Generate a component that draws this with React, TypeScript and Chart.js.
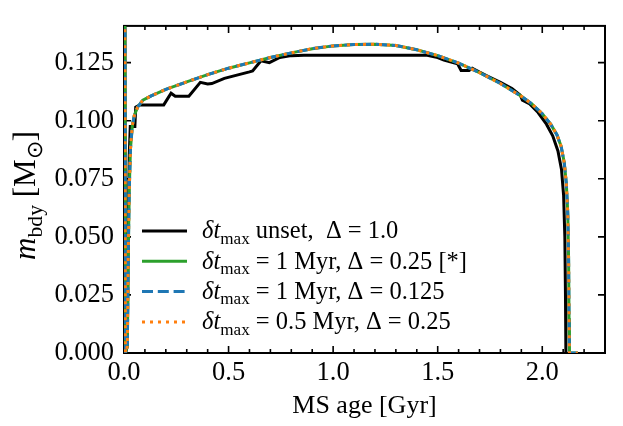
import React, { useEffect, useRef } from "react";
import { Chart, registerables } from "chart.js";

Chart.register(...registerables);

// ---------- data ----------
// black: δt_max unset, Δ = 1.0
const ageUnset = [
  0.004, 0.007, 0.016, 0.02, 0.025, 0.03, 0.052, 0.056, 0.075, 0.19, 0.225, 0.245,
  0.31, 0.365, 0.4, 0.42, 0.48, 0.6, 0.615, 0.655, 0.695, 0.745, 0.8, 0.86,
  1.45, 1.5, 1.53, 1.595, 1.612, 1.65, 1.665, 1.7, 1.735, 1.765, 1.8, 1.855,
  1.895, 1.905, 1.94, 1.98, 2.02, 2.05, 2.075, 2.092, 2.102, 2.108, 2.111, 2.113,
];
const mUnset = [
  0.16, 0.0, 0.003, 0.05, 0.085, 0.0975, 0.0975, 0.1058, 0.1068, 0.1068, 0.1118, 0.1105,
  0.1105, 0.1165, 0.1158, 0.116, 0.1182, 0.121, 0.1214, 0.1258, 0.125, 0.1272, 0.128, 0.1282,
  0.1282, 0.1272, 0.1261, 0.1245, 0.1216, 0.1216, 0.1226, 0.1209, 0.1193, 0.118, 0.1165, 0.1138,
  0.111, 0.1088, 0.1072, 0.1035, 0.0985, 0.0935, 0.087, 0.079, 0.068, 0.05, 0.025, 0.0,
];

// coloured runs (δt_max limited) – they lie on top of each other
const ageLimited = [
  0.004, 0.007, 0.016, 0.02, 0.025, 0.031, 0.04, 0.05, 0.065, 0.09, 0.13, 0.2,
  0.3, 0.4, 0.5, 0.6, 0.7, 0.8, 0.9, 1.0, 1.1, 1.2, 1.3, 1.4,
  1.5, 1.6, 1.7, 1.8, 1.9, 1.95, 2.0, 2.04, 2.07, 2.09, 2.105, 2.115,
  2.122, 2.126, 2.128, 2.13, 2.17,
];
const mLimited = [
  0.16, 0.0, 0.003, 0.04, 0.07, 0.088, 0.098, 0.1025, 0.1058, 0.1088, 0.1107, 0.1135,
  0.1167, 0.1198, 0.1226, 0.1249, 0.1272, 0.1292, 0.131, 0.1322, 0.1328, 0.1329, 0.1324, 0.1305,
  0.128, 0.1248, 0.1207, 0.116, 0.1105, 0.1072, 0.103, 0.0985, 0.094, 0.089, 0.082, 0.073,
  0.06, 0.04, 0.015, 0.0, 0.0,
];

const xTickValues = [0, 0.5, 1.0, 1.5, 2.0];
const xMinorValues = [
  0.1, 0.2, 0.3, 0.4, 0.6, 0.7, 0.8, 0.9, 1.1, 1.2, 1.3, 1.4, 1.6, 1.7, 1.8, 1.9, 2.1, 2.2,
];
const yTickValues = [0, 0.025, 0.05, 0.075, 0.1, 0.125];

const FONT = '"Liberation Serif", "Times New Roman", serif';

type Seg = { t: string; it?: boolean; sub?: boolean };

const legendRows: { color: string; dash: number[]; segs: Seg[] }[] = [
  {
    color: "#000000",
    dash: [],
    segs: [
      { t: "δt", it: true },
      { t: "max", sub: true },
      { t: " unset,  " },
      { t: "Δ = 1.0" },
    ],
  },
  {
    color: "#2ca02c",
    dash: [],
    segs: [
      { t: "δt", it: true },
      { t: "max", sub: true },
      { t: " = 1 Myr, Δ = 0.25 [*]" },
    ],
  },
  {
    color: "#1f77b4",
    dash: [11, 4.8],
    segs: [
      { t: "δt", it: true },
      { t: "max", sub: true },
      { t: " = 1 Myr, Δ = 0.125" },
    ],
  },
  {
    color: "#ff7f0e",
    dash: [3, 5],
    segs: [
      { t: "δt", it: true },
      { t: "max", sub: true },
      { t: " = 0.5 Myr, Δ = 0.25" },
    ],
  },
];

function drawRich(
  ctx: CanvasRenderingContext2D,
  x: number,
  y: number,
  segs: Seg[],
  size: number,
  measureOnly = false
) {
  let cx = x;
  for (const s of segs) {
    const fs = s.sub ? size * 0.7 : size;
    ctx.font = `${s.it ? "italic " : ""}${fs}px ${FONT}`;
    if (!measureOnly) ctx.fillText(s.t, cx, y + (s.sub ? size * 0.22 : 0));
    cx += ctx.measureText(s.t).width;
  }
  return cx - x;
}

const decorPlugin = {
  id: "decor",
  beforeDatasetsDraw(chart: any) {
    const ctx: CanvasRenderingContext2D = chart.ctx;
    const { left, right, top, bottom } = chart.chartArea;
    const xs = chart.scales.x;
    const ys = chart.scales.y;
    ctx.save();
    ctx.strokeStyle = "#000";
    ctx.lineWidth = 1.6;
    ctx.setLineDash([]);
    ctx.beginPath();
    const major = 7;
    const minor = 4;
    for (const v of xTickValues) {
      const px = xs.getPixelForValue(v);
      ctx.moveTo(px, bottom);
      ctx.lineTo(px, bottom - major);
      ctx.moveTo(px, top);
      ctx.lineTo(px, top + major);
    }
    for (const v of xMinorValues) {
      const px = xs.getPixelForValue(v);
      ctx.moveTo(px, bottom);
      ctx.lineTo(px, bottom - minor);
      ctx.moveTo(px, top);
      ctx.lineTo(px, top + minor);
    }
    for (const v of yTickValues) {
      const py = ys.getPixelForValue(v);
      ctx.moveTo(left, py);
      ctx.lineTo(left + major, py);
      ctx.moveTo(right, py);
      ctx.lineTo(right - major, py);
    }
    ctx.stroke();
    ctx.lineWidth = 2;
    ctx.strokeRect(left, top, right - left, bottom - top);
    ctx.restore();
  },
  afterDatasetsDraw(chart: any) {
    const ctx: CanvasRenderingContext2D = chart.ctx;
    const { left, right, top, bottom } = chart.chartArea;
    ctx.save();
    // legend
    const rowY0 = 231;
    const rowDy = 30.3;
    const size = 24.5;
    ctx.textBaseline = "alphabetic";
    ctx.textAlign = "left";
    ctx.fillStyle = "#000";
    legendRows.forEach((r, i) => {
      const y = rowY0 + i * rowDy;
      ctx.save();
      ctx.strokeStyle = r.color;
      ctx.lineWidth = 3;
      ctx.lineCap = "butt";
      ctx.setLineDash(r.dash);
      ctx.beginPath();
      ctx.moveTo(142, y);
      ctx.lineTo(187, y);
      ctx.stroke();
      ctx.restore();
      drawRich(ctx, 202, y + size * 0.3, r.segs, size);
    });

    // axis titles
    const tsize = 26;
    const xt: Seg[] = [{ t: "MS age [Gyr]" }];
    const wx = drawRich(ctx, 0, 0, xt, tsize, true);
    drawRich(ctx, (left + right) / 2 - wx / 2, 413, xt, tsize);

    const yt: Seg[] = [
      { t: "m", it: true },
      { t: "bdy", sub: true },
      { t: " [M" },
      { t: "⊙", sub: true },
      { t: "]" },
    ];
    const w25 = drawRich(ctx, 0, 0, yt, 25, true);
    const ysize = Math.min(31, (25 * 134) / w25);
    const wy = drawRich(ctx, 0, 0, yt, ysize, true);
    ctx.save();
    ctx.translate(35, (top + bottom) / 2 + 6);
    ctx.rotate(-Math.PI / 2);
    drawRich(ctx, -wy / 2, 0, yt, ysize);
    ctx.restore();
    ctx.restore();
  },
};

function mk(ages: number[], ms: number[]) {
  return ages.map((a, i) => ({ x: a, y: ms[i] }));
}

export default function App() {
  const ref = useRef<HTMLCanvasElement | null>(null);
  useEffect(() => {
    if (!ref.current) return;
    const common = { pointRadius: 0, borderWidth: 3, tension: 0, fill: false, showLine: true };
    const chart = new Chart(ref.current, {
      type: "line",
      data: {
        datasets: [
          { ...common, label: "unset", data: mk(ageUnset, mUnset), borderColor: "#000000", order: 4 },
          { ...common, label: "1Myr 0.25", data: mk(ageLimited, mLimited), borderColor: "#2ca02c", order: 3 },
          {
            ...common,
            label: "1Myr 0.125",
            data: mk(ageLimited, mLimited),
            borderColor: "#1f77b4",
            borderDash: [11, 4.8],
            order: 2,
          },
          {
            ...common,
            label: "0.5Myr 0.25",
            data: mk(ageLimited, mLimited),
            borderColor: "#ff7f0e",
            borderDash: [3, 5],
            borderCapStyle: "butt",
            order: 1,
          },
        ] as any,
      },
      options: {
        animation: false,
        responsive: false,
        devicePixelRatio: 1,
        layout: { padding: { top: 5, right: 18, left: 0, bottom: 0 } },
        plugins: { legend: { display: false }, tooltip: { enabled: false } },
        scales: {
          x: {
            type: "linear",
            min: 0,
            max: 2.3,
            grid: { display: false, drawTicks: false },
            border: { display: false },
            afterBuildTicks: (s: any) => {
              s.ticks = xTickValues.map((v) => ({ value: v }));
            },
            afterFit: (s: any) => {
              s.height = 73;
            },
            ticks: {
              padding: 4,
              color: "#000",
              font: { family: FONT, size: 26.5 },
              maxRotation: 0,
              autoSkip: false,
              callback: (v: any) => Number(v).toFixed(1),
            },
          },
          y: {
            type: "linear",
            min: 0,
            max: 0.1408,
            grid: { display: false, drawTicks: false },
            border: { display: false },
            afterBuildTicks: (s: any) => {
              s.ticks = yTickValues.map((v) => ({ value: v }));
            },
            afterFit: (s: any) => {
              s.width = 124;
            },
            ticks: {
              padding: 10,
              color: "#000",
              font: { family: FONT, size: 26.5 },
              autoSkip: false,
              callback: (v: any) => Number(v).toFixed(3),
            },
          },
        },
      } as any,
      plugins: [decorPlugin],
    });
    return () => chart.destroy();
  }, []);
  return (
    <div style={{ position: "fixed", left: 0, top: 0, width: 623, height: 426, background: "#fff" }}>
      <canvas ref={ref} width={623} height={426} style={{ width: 623, height: 426, display: "block" }} />
    </div>
  );
}
